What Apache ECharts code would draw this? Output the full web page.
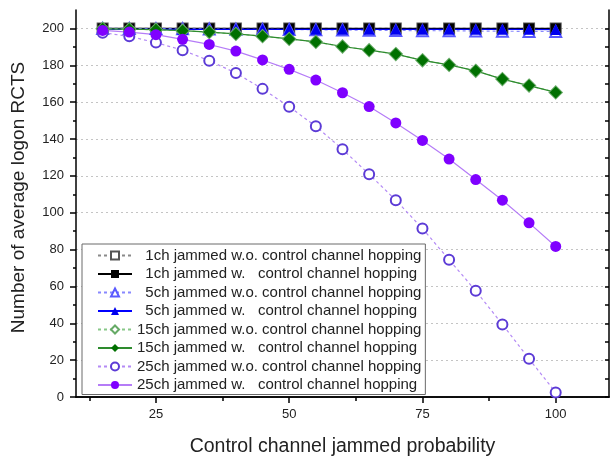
<!DOCTYPE html>
<html>
<head>
<meta charset="utf-8">
<script src="https://cdn.jsdelivr.net/npm/echarts@6/dist/echarts.min.js"></script>
<style>
  html, body { margin: 0; padding: 0; background: #fff; }
  #main { width: 611px; height: 462px; }
</style>
</head>
<body>
<div id="main"></div>
<script>
// x: control channel jammed probability
const probability = [15, 20, 25, 30, 35, 40, 45, 50, 55, 60, 65, 70, 75, 80, 85, 90, 95, 100];

// average logon RCTS per series
const ch1Without  = [200, 200, 200, 200, 200, 200, 200, 200, 200, 200, 200, 200, 200, 200, 200, 200, 200, 200];
const ch1With     = [200, 200, 200, 200, 200, 200, 200, 200, 200, 200, 200, 200, 200, 200, 200, 200, 200, 200];
const ch5Without  = [200, 200, 199.9, 199.8, 199.7, 199.6, 199.5, 199.4, 199.3, 199.2, 199.0, 198.9, 198.8, 198.7, 198.6, 198.5, 198.4, 198.3];
const ch5With     = [199.5, 199.5, 199.5, 199.5, 199.5, 199.5, 199.5, 199.5, 199.5, 199.5, 199.5, 199.5, 199.5, 199.5, 199.5, 199.5, 199.5, 199.4];
const ch15Without = [199.8, 199.6, 199.3, 198.8, 198.0, 197.0, 195.8, 194.3, 192.7, 190.2, 188.2, 186.1, 182.7, 180.2, 177.0, 172.5, 169.0, 165.3];
const ch15With    = [199.8, 199.6, 199.3, 198.8, 198.0, 197.0, 195.8, 194.3, 192.7, 190.2, 188.2, 186.1, 182.7, 180.2, 177.0, 172.5, 169.0, 165.3];
const ch25Without = [197.7, 195.7, 192.3, 188.2, 182.5, 175.8, 167.2, 157.5, 146.9, 134.4, 120.9, 106.8, 91.4, 74.5, 57.6, 39.4, 20.7, 2.5];
const ch25With    = [198.9, 198.0, 196.6, 194.1, 191.3, 187.7, 182.9, 177.8, 172.0, 165.1, 157.6, 148.7, 139.2, 129.1, 118.0, 106.8, 94.5, 81.7];

// ticks
const xMajorTicks = [25, 50, 75, 100];
const xMinorTicks = [12.5, 37.5, 62.5, 87.5];
const yMajorTicks = [0, 20, 40, 60, 80, 100, 120, 140, 160, 180, 200];
const yMinorTicks = [10, 30, 50, 70, 90, 110, 130, 150, 170, 190];

const FONT = '"Liberation Sans", Arial, sans-serif';

var myChart = echarts.init(document.getElementById('main'));

const pairs = (vals) => probability.map((p, i) => [p, vals[i]]);

// legend text is padded with spaces like the original (digit = 2 spaces, "o." = 3 spaces)
const label = (count, mode) =>
    (count.length === 3 ? '  ' : '') + count + ' jammed ' + (mode === 'w.' ? 'w.   ' : 'w.o. ') + 'control channel hopping'

const mk = (count, mode, vals, symbol, size, lineColor, markColor, dashed) => ({
    name: label(count, mode),
    type: 'line',
    data: pairs(vals),
    symbol: symbol,
    symbolSize: size,
    lineStyle: { color: lineColor, width: 1.2, type: dashed ? [3, 3] : 'solid' },
    itemStyle: { color: markColor, borderWidth: 1.5 },
    emphasis: { disabled: true },
    animation: false
})

const seriesList = [
    mk('1ch', 'w.o.', ch1Without, 'emptyRect', 10, '#8a8a8a', '#555555', true),
    mk('1ch', 'w.', ch1With, 'rect', 10, '#000000', '#000000', false),
    mk('5ch', 'w.o.', ch5Without, 'emptyTriangle', 11, '#8888ff', '#5a5aff', true),
    mk('5ch', 'w.', ch5With, 'triangle', 11, '#0000ff', '#0000ee', false),
    mk('15ch', 'w.o.', ch15Without, 'emptyDiamond', 12, '#88c888', '#66aa66', true),
    mk('15ch', 'w.', ch15With, 'diamond', 12, '#2e8b2e', '#007000', false),
    mk('25ch', 'w.o.', ch25Without, 'emptyCircle', 10, '#b48af5', '#5c3bd6', true),
    mk('25ch', 'w.', ch25With, 'circle', 11, '#b57cf7', '#7f00ff', false)
]

const axisLineStyle = { color: '#000', width: 1.5 }
const baseX = { type: 'value', min: 10, max: 110, gridIndex: 0, splitLine: { show: false } }
const baseY = { type: 'value', min: 0, max: 210, gridIndex: 0, interval: 20 }

myChart.setOption({
    animation: false,
    backgroundColor: '#fff',
    grid: { left: 76, right: 2, top: 10, bottom: 60, containLabel: false },
    legend: {
        orient: 'vertical',
        left: 82,
        top: 244,
        padding: [4, 4, 2, 15],
        itemGap: 3.5,
        itemWidth: 34,
        itemHeight: 10,
        backgroundColor: '#fff',
        borderColor: '#6a6a6a',
        borderWidth: 1,
        selectedMode: false,
        data: seriesList.map(s => s.name),
        textStyle: { fontFamily: FONT, fontSize: 15, color: '#222' }
    },
    xAxis: [
        Object.assign({}, baseX, {
            position: 'bottom',
            name: 'Control channel jammed probability',
            nameLocation: 'middle',
            nameGap: 40,
            nameTextStyle: { fontFamily: FONT, fontSize: 19.5, color: '#222' },
            axisLine: { lineStyle: axisLineStyle },
            axisTick: { customValues: xMajorTicks, length: 6, lineStyle: { color: '#000', width: 1.5 } },
            axisLabel: { customValues: xMajorTicks, margin: 11, fontFamily: FONT, fontSize: 13, color: '#222' }
        }),
        Object.assign({}, baseX, {
            position: 'bottom',
            axisLine: { show: false },
            axisTick: { customValues: xMinorTicks, length: 3, lineStyle: { color: '#000', width: 1.5 } },
            axisLabel: { show: false }
        }),
        Object.assign({}, baseX, {
            position: 'top',
            axisLine: { lineStyle: axisLineStyle },
            axisTick: { inside: true, customValues: xMinorTicks.concat(xMajorTicks), length: 4, lineStyle: { color: '#000', width: 1.5 } },
            axisLabel: { show: false }
        })
    ],
    yAxis: [
        Object.assign({}, baseY, {
            position: 'left',
            name: 'Number of average logon RCTS',
            nameLocation: 'middle',
            nameGap: 48,
            nameTextStyle: { fontFamily: FONT, fontSize: 19, color: '#222', padding: [0, 0, 0, 12] },
            axisLine: { lineStyle: axisLineStyle },
            axisTick: { customValues: yMajorTicks, length: 6, lineStyle: { color: '#000', width: 1.5 } },
            axisLabel: { customValues: yMajorTicks, margin: 12, fontFamily: FONT, fontSize: 13, color: '#222' },
            splitLine: { show: true, lineStyle: { color: '#c4c4c4', width: 1.2, type: [2, 3] } }
        }),
        Object.assign({}, baseY, {
            position: 'left',
            axisLine: { show: false },
            axisTick: { customValues: yMinorTicks, length: 3, lineStyle: { color: '#000', width: 1.5 } },
            axisLabel: { show: false },
            splitLine: { show: false }
        }),
        Object.assign({}, baseY, {
            position: 'right',
            axisLine: { lineStyle: axisLineStyle },
            axisTick: { inside: true, customValues: yMajorTicks.concat(yMinorTicks), length: 4, lineStyle: { color: '#000', width: 1.5 } },
            axisLabel: { show: false },
            splitLine: { show: false }
        })
    ],
    series: seriesList
});
</script>
</body>
</html>
